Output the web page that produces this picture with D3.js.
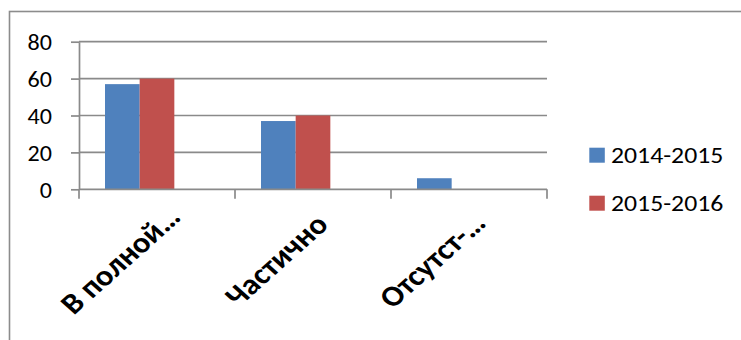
<!DOCTYPE html>
<html>
<head>
<meta charset="utf-8">
<script src="https://cdn.jsdelivr.net/npm/d3@7"></script>
<style>
  html, body { margin: 0; padding: 0; background: #fff; }
  svg { display: block; }
</style>
</head>
<body>
<svg id="chart" width="741" height="340"></svg>
<script>
// ---- data ----
const categories = ["В полной…", "Частично", "Отсутст-…"];
const seriesNames = ["2014-2015", "2015-2016"];
const values2014 = [57, 37, 6];
const values2015 = [60, 40, null];
const yTicks = [0, 20, 40, 60, 80];
const seriesColors = ["#4F81BD", "#C0504D"];

// ---- layout ----
const W = 741, H = 340;
const plot = { left: 79, right: 547, top: 41.7, bottom: 189.3 };
const slotCount = 3; // chart reserves three series slots per category (third is empty)
const fontNum = "Carlito, Lato, 'Open Sans', sans-serif";
const fontLab = "Carlito, 'Open Sans', 'Noto Sans', sans-serif";
const gridColor = "#8a8a8a";
const stretch = 1.12;

const svg = d3.select("#chart");

// outer chart border (extends beyond the visible window)
svg.append("rect")
  .attr("x", 9.5).attr("y", 11.5)
  .attr("width", W + 20).attr("height", H + 20)
  .attr("fill", "none").attr("stroke", "#8c8c8c").attr("stroke-width", 1.6);

const y = d3.scaleLinear().domain([0, 80]).range([plot.bottom, plot.top]);
const x0 = d3.scaleBand().domain(categories).range([plot.left, plot.right]).paddingInner(0).paddingOuter(0);
const slots = d3.range(slotCount);
const x1 = d3.scaleBand().domain(slots).range([0, x0.bandwidth()]).paddingInner(0).paddingOuter(0.75);

// gridlines
svg.append("g").selectAll("line")
  .data(yTicks.filter(d => d > 0))
  .join("line")
  .attr("x1", plot.left).attr("x2", plot.right)
  .attr("y1", d => y(d)).attr("y2", d => y(d))
  .attr("stroke", gridColor).attr("stroke-width", 1.7);

// bars
const series = [values2014, values2015];
series.forEach((vals, si) => {
  svg.append("g").selectAll("rect")
    .data(categories.map((c, i) => ({ c, v: vals[i] })).filter(d => d.v != null && d.v > 0))
    .join("rect")
    .attr("x", d => x0(d.c) + x1(si))
    .attr("width", x1.bandwidth())
    .attr("y", d => y(d.v))
    .attr("height", d => y(0) - y(d.v))
    .attr("fill", seriesColors[si]);
});

// y axis
const yAxis = svg.append("g")
  .attr("transform", `translate(${plot.left},0)`)
  .call(d3.axisLeft(y).tickValues(yTicks).tickSize(8).tickSizeOuter(0).tickPadding(19));
yAxis.select(".domain").attr("stroke", gridColor).attr("stroke-width", 1.7);
yAxis.selectAll(".tick line").attr("stroke", gridColor).attr("stroke-width", 1.7);
yAxis.selectAll(".tick text")
  .attr("font-family", fontNum).attr("font-size", 21.5).attr("fill", "#000")
  .attr("transform", `scale(${stretch},1)`)
  .attr("x", -27 / stretch)
  .attr("dy", "0.36em");

// x axis line
svg.append("line")
  .attr("x1", plot.left).attr("x2", plot.right)
  .attr("y1", y(0)).attr("y2", y(0))
  .attr("stroke", gridColor).attr("stroke-width", 1.7);

// category boundary ticks
const boundaries = categories.map(c => x0(c)).concat([x0.range()[1]]);
svg.append("g").selectAll("line")
  .data(boundaries)
  .join("line")
  .attr("x1", d => d).attr("x2", d => d)
  .attr("y1", y(0)).attr("y2", y(0) + 9.5)
  .attr("stroke", gridColor).attr("stroke-width", 1.7);

// category labels (rotated)
svg.append("g").selectAll("text")
  .data(categories)
  .join("text")
  .attr("transform", d => `translate(${x0(d) + x0.bandwidth() / 2 - 37},260) scale(${stretch},1) rotate(-45)`)
  .attr("text-anchor", "middle")
  .attr("dy", "0.35em")
  .attr("font-family", fontLab)
  .attr("font-weight", "bold")
  .attr("font-size", 29)
  .attr("fill", "#000")
  .text(d => d);

// legend
const legend = svg.append("g");
seriesNames.forEach((name, i) => {
  const ly = 147.7 + i * 48;
  legend.append("rect")
    .attr("x", 589.3).attr("y", ly)
    .attr("width", 15.5).attr("height", 15)
    .attr("fill", seriesColors[i]);
  legend.append("text")
    .attr("transform", `translate(611,${ly + 15.6}) scale(${stretch},1)`)
    .attr("font-family", fontNum).attr("font-size", 23)
    .attr("fill", "#000")
    .text(name);
});
</script>
</body>
</html>
